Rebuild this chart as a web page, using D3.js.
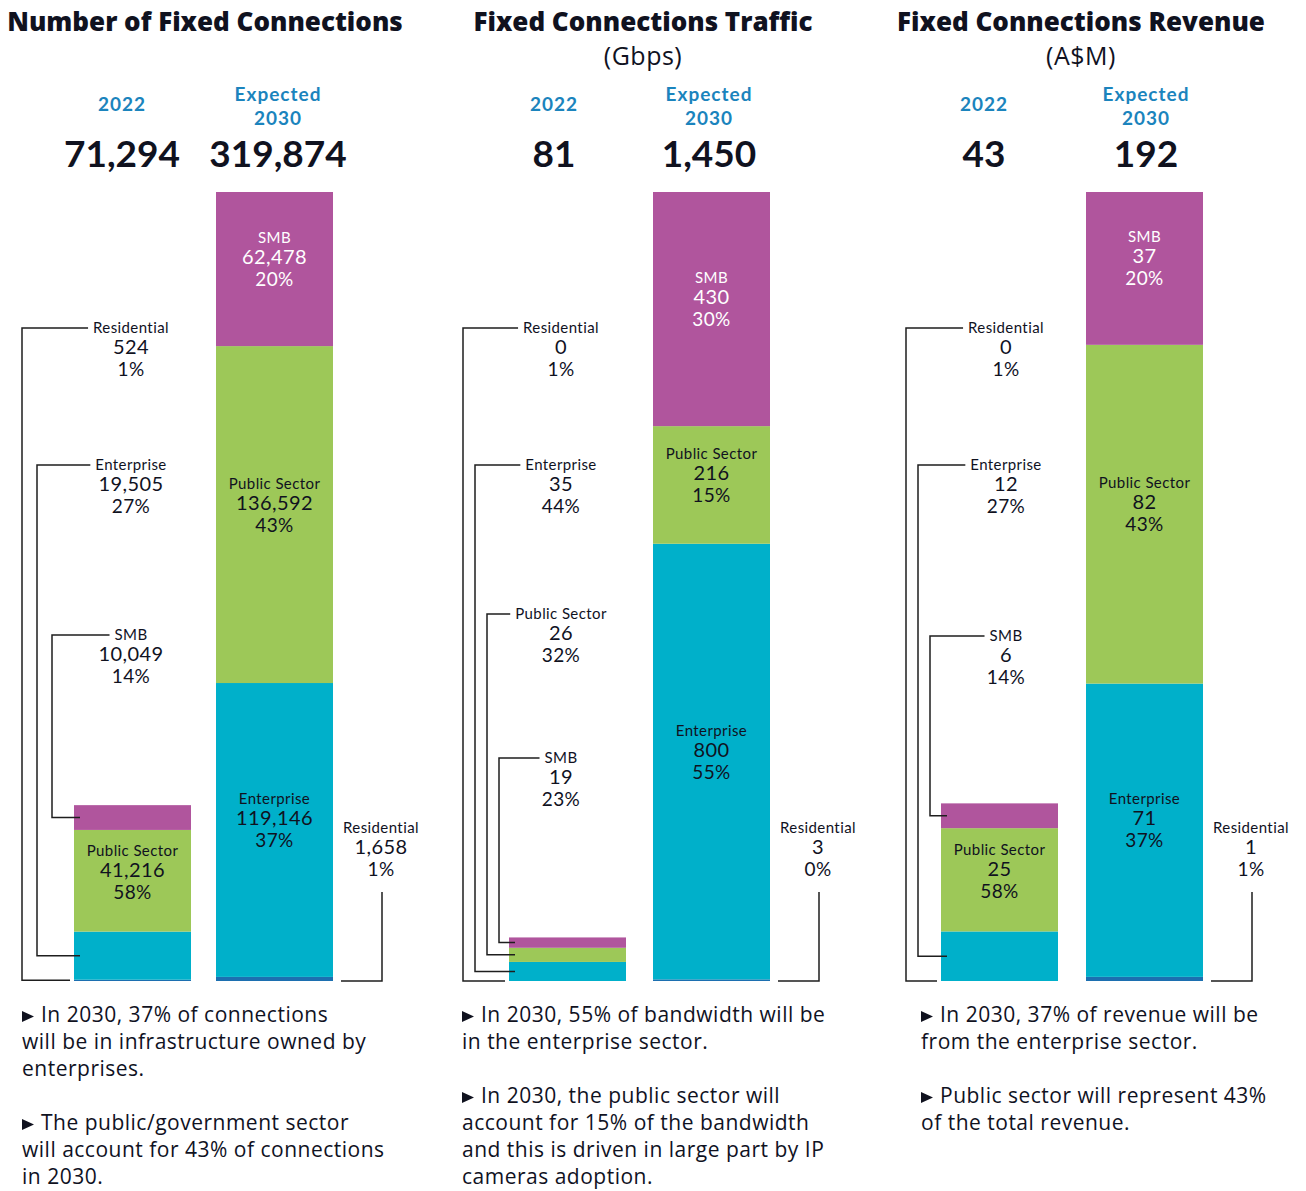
<!DOCTYPE html>
<html>
<head>
<meta charset="utf-8">
<script src="https://cdn.jsdelivr.net/npm/d3@7"></script>
<style>
  body { margin: 0; background: #fff; }
  svg { display: block; font-family: "Open Sans", Lato, sans-serif; }
</style>
</head>
<body>
<svg id="chart" width="1306" height="1191"></svg>
<script>
// Segments, stacked from the bottom of each bar
const categories = ["Residential", "Enterprise", "Public Sector", "SMB"];
const years = ["2022", "Expected 2030"];

const panelTitles = ["Number of Fixed Connections", "Fixed Connections Traffic", "Fixed Connections Revenue"];
const panelUnits = ["", "(Gbps)", "(A$M)"];
const totals2022 = ["71,294", "81", "43"];
const totals2030 = ["319,874", "1,450", "192"];

const connections2022 = [524, 19505, 41216, 10049];
const connections2022Share = ["1%", "27%", "58%", "14%"];
const connections2030 = [1658, 119146, 136592, 62478];
const connections2030Share = ["1%", "37%", "43%", "20%"];

const traffic2022 = [0, 35, 26, 19];
const traffic2022Share = ["1%", "44%", "32%", "23%"];
const traffic2030 = [3, 800, 216, 430];
const traffic2030Share = ["0%", "55%", "15%", "30%"];

const revenue2022 = [0, 12, 25, 6];
const revenue2022Share = ["1%", "27%", "58%", "14%"];
const revenue2030 = [1, 71, 82, 37];
const revenue2030Share = ["1%", "37%", "43%", "20%"];

const notes = [
    [["In 2030, 37% of connections", "will be in infrastructure owned by", "enterprises."],
     ["The public/government sector", "will account for 43% of connections", "in 2030."]],
    [["In 2030, 55% of bandwidth will be", "in the enterprise sector."],
     ["In 2030, the public sector will", "account for 15% of the bandwidth", "and this is driven in large part by IP", "cameras adoption."]],
    [["In 2030, 37% of revenue will be", "from the enterprise sector."],
     ["Public sector will represent 43%", "of the total revenue."]]
];

const panelData = [
    { v2022: connections2022, s2022: connections2022Share, v2030: connections2030, s2030: connections2030Share },
    { v2022: traffic2022, s2022: traffic2022Share, v2030: traffic2030, s2030: traffic2030Share },
    { v2022: revenue2022, s2022: revenue2022Share, v2030: revenue2030, s2030: revenue2030Share }
];

// Layout of each panel
const layout = [
    { x2022: 74, x2030: 216, titleX: 205, h2022: 122, h2030: 278, leaderX: 22, leaderStep: 15, labelX: 131, labelY: [328, 465, 635], noteX: 22 },
    { x2022: 509, x2030: 653, titleX: 643, h2022: 554, h2030: 709, leaderX: 463, leaderStep: 12, labelX: 561, labelY: [328, 465, 614, 758], noteX: 462 },
    { x2022: 941, x2030: 1086, titleX: 1081, h2022: 984, h2030: 1146, leaderX: 906, leaderStep: 12, labelX: 1006, labelY: [328, 465, 636], noteX: 921 }
];

const barWidth = 117;
const barTop = 192;
const barBottom = 981;

const color = d3.scaleOrdinal()
    .domain(categories)
    .range(["#1c6fb0", "#00b0ca", "#9dc858", "#b0559d"]);

const ink = "#10121f";
const headerBlue = "#1b84bd";
const fmt = d3.format(",");

const svg = d3.select("#chart");

/** Draws the three line label: category, value, share */
function drawLabel(g, cx, y, name, value, share, fill) {
    const t = g.append("g").attr("fill", fill).attr("text-anchor", "middle")
        .attr("font-family", "Lato, sans-serif").attr("letter-spacing", 0.4);
    const n = t.append("text").attr("x", cx).attr("y", y + 5).attr("font-size", 15).text(name);
    t.append("text").attr("x", cx).attr("y", y + 26).attr("font-size", 20).text(value);
    t.append("text").attr("x", cx).attr("y", y + 48).attr("font-size", 19).text(share);
    return n.node().getComputedTextLength();
}

const leader = d3.line();

panelData.forEach((d, p) => {
    const lay = layout[p];
    const g = svg.append("g");

    // Titles and headers
    g.append("text").attr("x", lay.titleX).attr("y", 31).attr("text-anchor", "middle")
        .attr("font-size", 26).attr("font-weight", 800).attr("fill", ink).text(panelTitles[p]);
    if (panelUnits[p]) {
        g.append("text").attr("x", lay.titleX).attr("y", 65).attr("text-anchor", "middle")
            .attr("font-size", 25).attr("letter-spacing", 0.5).attr("fill", ink).text(panelUnits[p]);
    }
    const head = g.append("g").attr("text-anchor", "middle").attr("font-family", "Lato, sans-serif")
        .attr("font-size", 19).attr("font-weight", 700).attr("letter-spacing", 1).attr("fill", headerBlue);
    head.append("text").attr("x", lay.h2022).attr("y", 111).text(years[0]);
    const [w1, w2] = years[1].split(" ");
    head.append("text").attr("x", lay.h2030).attr("y", 101).text(w1);
    head.append("text").attr("x", lay.h2030).attr("y", 125).text(w2);

    const tot = g.append("g").attr("text-anchor", "middle").attr("font-family", "Lato, sans-serif")
        .attr("font-size", 37).attr("font-weight", 700).attr("fill", ink);
    tot.append("text").attr("x", lay.h2022).attr("y", 167).text(totals2022[p]);
    tot.append("text").attr("x", lay.h2030).attr("y", 167).text(totals2030[p]);

    // Scales and stack
    const y = d3.scaleLinear().domain([0, d3.sum(d.v2030)]).range([barBottom, barTop]);
    const x = d3.scaleOrdinal().domain(years).range([lay.x2022, lay.x2030]);
    const rows = [d.v2022, d.v2030].map((vals, i) => {
        const r = { year: years[i] };
        categories.forEach((c, k) => r[c] = vals[k]);
        return r;
    });
    const series = d3.stack().keys(categories)(rows);

    g.append("g").selectAll("g").data(series).join("g")
        .attr("fill", s => color(s.key))
        .selectAll("rect").data(s => s).join("rect")
        .attr("x", r => x(r.data.year))
        .attr("y", r => y(r[1]))
        .attr("width", barWidth)
        .attr("height", r => y(r[0]) - y(r[1]));

    const lines = g.append("g").attr("fill", "none").attr("stroke", "#1e1e1e").attr("stroke-width", 1.5);
    const labels = g.append("g");

    // 2022 bar: big segments labelled inside, small ones led out to the left
    let slot = 0;
    series.forEach((s, k) => {
        const r = s[0];
        const h = y(r[0]) - y(r[1]);
        const mid = (y(r[0]) + y(r[1])) / 2;
        const name = categories[k];
        const valueText = fmt(d.v2022[k]);
        const fill = name === "SMB" ? "#fff" : ink;
        if (h > 60) {
            drawLabel(labels, x(years[0]) + barWidth / 2, mid - 30, name, valueText, d.s2022[k], fill);
            return;
        }
        const ly = lay.labelY[slot];
        const vx = lay.leaderX + slot * lay.leaderStep;
        const tw = drawLabel(labels, lay.labelX, ly, name, valueText, d.s2022[k], ink);
        const endX = h < 3 ? x(years[0]) - 4 : x(years[0]) + 6;
        lines.append("path").attr("d", leader([
            [lay.labelX - tw / 2 - 5, ly], [vx, ly], [vx, mid], [endX, mid]
        ]));
        slot++;
    });

    // 2030 bar: inside labels, thin residential slice led out to the right
    series.forEach((s, k) => {
        const r = s[1];
        const h = y(r[0]) - y(r[1]);
        const mid = (y(r[0]) + y(r[1])) / 2;
        const name = categories[k];
        const valueText = fmt(d.v2030[k]);
        const fill = name === "SMB" ? "#fff" : ink;
        if (h > 60) {
            drawLabel(labels, x(years[1]) + barWidth / 2, mid - 31, name, valueText, d.s2030[k], fill);
            return;
        }
        const right = x(years[1]) + barWidth;
        const cx = right + 48;
        const ly = 828;
        drawLabel(labels, cx, ly, name, valueText, d.s2030[k], ink);
        lines.append("path").attr("d", leader([
            [cx + 1, ly + 64], [cx + 1, barBottom], [right + 8, barBottom]
        ]));
    });

    // Notes under the chart
    const ng = g.append("g").attr("fill", ink).attr("font-size", 21).attr("letter-spacing", 0.5);
    let base = 1022;
    notes[p].forEach(par => {
        ng.append("path")
            .attr("d", `M${lay.noteX},${base - 11}L${lay.noteX + 12},${base - 5.5}L${lay.noteX},${base}Z`);
        par.forEach((line, i) => {
            ng.append("text")
                .attr("x", i === 0 ? lay.noteX + 19 : lay.noteX)
                .attr("y", base + i * 27)
                .text(line);
        });
        base += (par.length - 1) * 27 + 54;
    });
});
</script>
</body>
</html>
